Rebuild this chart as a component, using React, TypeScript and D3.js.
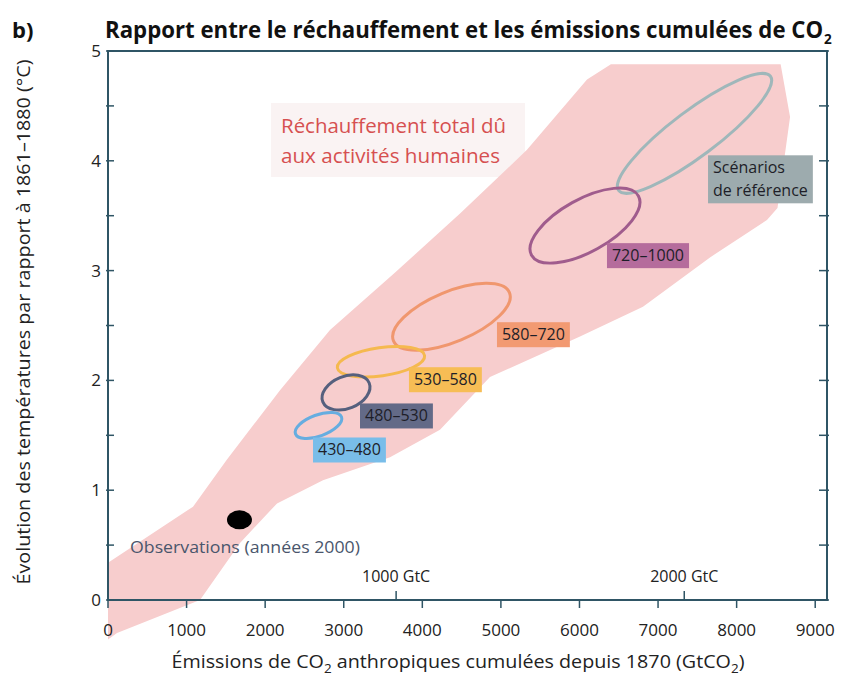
import React, { useEffect, useRef } from 'react';
import * as d3 from 'd3';

// axis ticks
const xTicks = [0, 1000, 2000, 3000, 4000, 5000, 6000, 7000, 8000, 9000];
const yTicks = [0, 1, 2, 3, 4, 5];
const yMinorTicks = [0.5, 1.5, 2.5, 3.5, 4.5];
const gtcTicks = [1000, 2000];
const GTC_TO_GTCO2 = 44 / 12;

// plume "Réchauffement total dû aux activités humaines" (GtCO2, °C), upper edge then lower edge
const bandX = [0, 1082, 1514, 2189, 2825, 3650, 4480, 5332, 6096, 6400, 8560, 8680, 8520,
  8386, 7661, 6808, 6007, 4861, 4225, 3589, 2736, 2151, 1680, 1171, 115, 0];
const bandY = [0.34, 0.85, 1.28, 1.91, 2.46, 2.98, 3.52, 4.10, 4.74, 4.88, 4.88, 4.40, 3.57,
  3.46, 3.12, 2.67, 2.40, 2.03, 1.55, 1.30, 1.09, 0.88, 0.52, 0.0, -0.30, -0.36];

// concentration categories (ppm CO2-eq)
const scenarioNames = ['Scénarios de référence', '720–1000', '580–720', '530–580', '480–530', '430–480'];
const scenarioX = [7464, 6070, 4371, 3474, 3029, 2679];
const scenarioY = [4.25, 3.41, 2.58, 2.17, 1.89, 1.59];
// half major axis of each range ellipse
const scenarioDX = [966, 680, 738, 555, 295, 293];
const scenarioDY = [0.52, 0.27, 0.22, 0.056, 0.086, 0.077];
const scenarioRatio = [0.24, 0.43, 0.40, 0.32, 0.64, 0.43];
const scenarioLabelX = [7636, 6350, 4950, 3830, 3207, 2609];
const scenarioLabelY = [4.05, 3.25, 2.53, 2.12, 1.79, 1.48];
const scenarioStroke = ['#9fb7ba', '#a05c8d', '#f0976e', '#f5b94f', '#56607e', '#66ade0'];
const scenarioFill = ['#9dabae', '#b56c9c', '#f29a72', '#f7bd55', '#636a87', '#79bde9'];

// observations 2000s
const obsX = 1673;
const obsY = 0.73;

const FONT = "'Open Sans', 'Noto Sans', sans-serif";
const AXIS = '#2f5565';

const App = () => {
  const svgRef = useRef<SVGSVGElement>(null);
  const width = 842, height = 682;

  useEffect(() => {
    const svg = d3.select(svgRef.current);
    svg.selectAll('*').remove();

    const x = d3.scaleLinear().domain([0, 9150]).range([108, 827]);
    const y = d3.scaleLinear().domain([0, 5]).range([600, 51]);

    svg.append('rect').attr('width', width).attr('height', height).attr('fill', '#fff');

    // faint background behind the red label
    svg.append('rect')
      .attr('x', 271).attr('y', 103).attr('width', 254).attr('height', 74)
      .attr('fill', '#faf3f3');

    // plume
    const pts: [number, number][] = bandX.map((d, i) => [x(d), y(bandY[i])]);
    svg.append('path')
      .attr('d', d3.line().curve(d3.curveLinearClosed)(pts))
      .attr('fill', '#f7cdcd');

    svg.append('g').selectAll('text')
      .data(['Réchauffement total dû', 'aux activités humaines'])
      .join('text')
      .attr('x', 281).attr('y', (d, i) => 133 + i * 30)
      .attr('font-family', FONT).attr('font-size', 20)
      .attr('fill', '#d65050')
      .attr('textLength', (d, i) => (i === 0 ? 225 : 219))
      .attr('lengthAdjust', 'spacingAndGlyphs')
      .text(d => d);

    // range ellipses
    const eg = svg.append('g');
    scenarioNames.forEach((name, i) => {
      const cx = x(scenarioX[i]), cy = y(scenarioY[i]);
      const ex = x(scenarioX[i] + scenarioDX[i]), ey = y(scenarioY[i] + scenarioDY[i]);
      const a = Math.hypot(ex - cx, ey - cy);
      const ang = Math.atan2(ey - cy, ex - cx) * 180 / Math.PI;
      eg.append('ellipse')
        .attr('transform', `translate(${cx},${cy}) rotate(${ang})`)
        .attr('rx', a).attr('ry', a * scenarioRatio[i])
        .attr('fill', 'none')
        .attr('stroke', scenarioStroke[i])
        .attr('stroke-width', 3);
    });

    // label boxes
    scenarioNames.forEach((name, i) => {
      const lx = x(scenarioLabelX[i]), ly = y(scenarioLabelY[i]);
      const lines = i === 0 ? ['Scénarios', 'de référence'] : [name];
      const g = svg.append('g');
      const rect = g.append('rect').attr('fill', scenarioFill[i]);
      const t = g.append('text')
        .attr('font-family', FONT).attr('font-size', 16).attr('fill', '#1e1e28');
      lines.forEach((l, j) => {
        t.append('tspan').attr('x', lx + 5).attr('y', ly + 18 + j * 23).text(l);
      });
      const bb = (t.node() as SVGTextElement).getBBox();
      rect.attr('x', lx).attr('y', ly)
        .attr('width', bb.width + 10)
        .attr('height', lines.length * 23 + 2);
    });

    // observations
    svg.append('ellipse')
      .attr('cx', x(obsX)).attr('cy', y(obsY))
      .attr('rx', 12.5).attr('ry', 9.5).attr('fill', '#000');
    svg.append('text')
      .attr('x', 130).attr('y', 553)
      .attr('font-family', FONT).attr('font-size', 17).attr('fill', '#4a566c')
      .attr('textLength', 230).attr('lengthAdjust', 'spacingAndGlyphs')
      .text('Observations (années 2000)');

    // frame
    svg.append('rect')
      .attr('x', x(0)).attr('y', y(5))
      .attr('width', x(9150) - x(0)).attr('height', y(0) - y(5))
      .attr('fill', 'none').attr('stroke', AXIS).attr('stroke-width', 2);

    const tg = svg.append('g').attr('stroke', AXIS).attr('stroke-width', 1.5);
    xTicks.forEach(d => {
      tg.append('line').attr('x1', x(d)).attr('x2', x(d)).attr('y1', y(0)).attr('y2', y(0) + 8);
    });
    [...yTicks, ...yMinorTicks].forEach(d => {
      tg.append('line').attr('x1', x(0) - 2).attr('x2', x(0) + 6).attr('y1', y(d)).attr('y2', y(d));
      tg.append('line').attr('x1', x(9150) + 2).attr('x2', x(9150) - 8).attr('y1', y(d)).attr('y2', y(d));
    });
    gtcTicks.forEach(d => {
      const px = x(d * GTC_TO_GTCO2);
      tg.append('line').attr('x1', px).attr('x2', px).attr('y1', y(0)).attr('y2', y(0) - 9);
      svg.append('text')
        .attr('x', px).attr('y', 582).attr('text-anchor', 'middle')
        .attr('font-family', FONT).attr('font-size', 16).attr('fill', '#222')
        .text(`${d} GtC`);
    });

    svg.append('g').selectAll('text').data(xTicks).join('text')
      .attr('x', d => x(d)).attr('y', 636).attr('text-anchor', 'middle')
      .attr('font-family', FONT).attr('font-size', 17).attr('fill', '#222')
      .text(d => d);
    svg.append('g').selectAll('text').data(yTicks).join('text')
      .attr('x', 101).attr('y', d => y(d) + 6).attr('text-anchor', 'end')
      .attr('font-family', FONT).attr('font-size', 17).attr('fill', '#222')
      .text(d => d);

    // axis titles
    const xt = svg.append('text')
      .attr('x', 458).attr('y', 668).attr('text-anchor', 'middle')
      .attr('font-family', FONT).attr('font-size', 19).attr('fill', '#222')
      .attr('textLength', 573).attr('lengthAdjust', 'spacingAndGlyphs');
    xt.append('tspan').text('Émissions de CO');
    xt.append('tspan').attr('dy', 5).attr('font-size', 13).text('2');
    xt.append('tspan').attr('dy', -5).text(' anthropiques cumulées depuis 1870 (GtCO');
    xt.append('tspan').attr('dy', 5).attr('font-size', 13).text('2');
    xt.append('tspan').attr('dy', -5).text(')');

    svg.append('text')
      .attr('transform', 'translate(30,322) rotate(-90)')
      .attr('text-anchor', 'middle')
      .attr('font-family', FONT).attr('font-size', 18).attr('fill', '#222')
      .attr('textLength', 525).attr('lengthAdjust', 'spacingAndGlyphs')
      .text('Évolution des températures par rapport à 1861–1880 (°C)');

    // title, squeezed horizontally to the width of the original condensed face
    svg.append('text')
      .attr('x', 12).attr('y', 38)
      .attr('font-family', FONT).attr('font-size', 22).attr('font-weight', 'bold').attr('fill', '#111')
      .text('b)');
    const tt = svg.append('text')
      .attr('font-family', FONT)
      .attr('font-size', 23).attr('font-weight', 'bold').attr('fill', '#111');
    tt.append('tspan').text('Rapport entre le réchauffement et les émissions cumulées de CO');
    tt.append('tspan').attr('dx', 1).attr('dy', 6).attr('font-size', 14).text('2');
    const natural = (tt.node() as SVGTextElement).getComputedTextLength();
    tt.attr('transform', `translate(105,38) scale(${726 / natural},1)`);
  }, []);

  return (
    <svg ref={svgRef} width={width} height={height}
      style={{ position: 'absolute', left: 0, top: 0, display: 'block' }} />
  );
};

export default App;
